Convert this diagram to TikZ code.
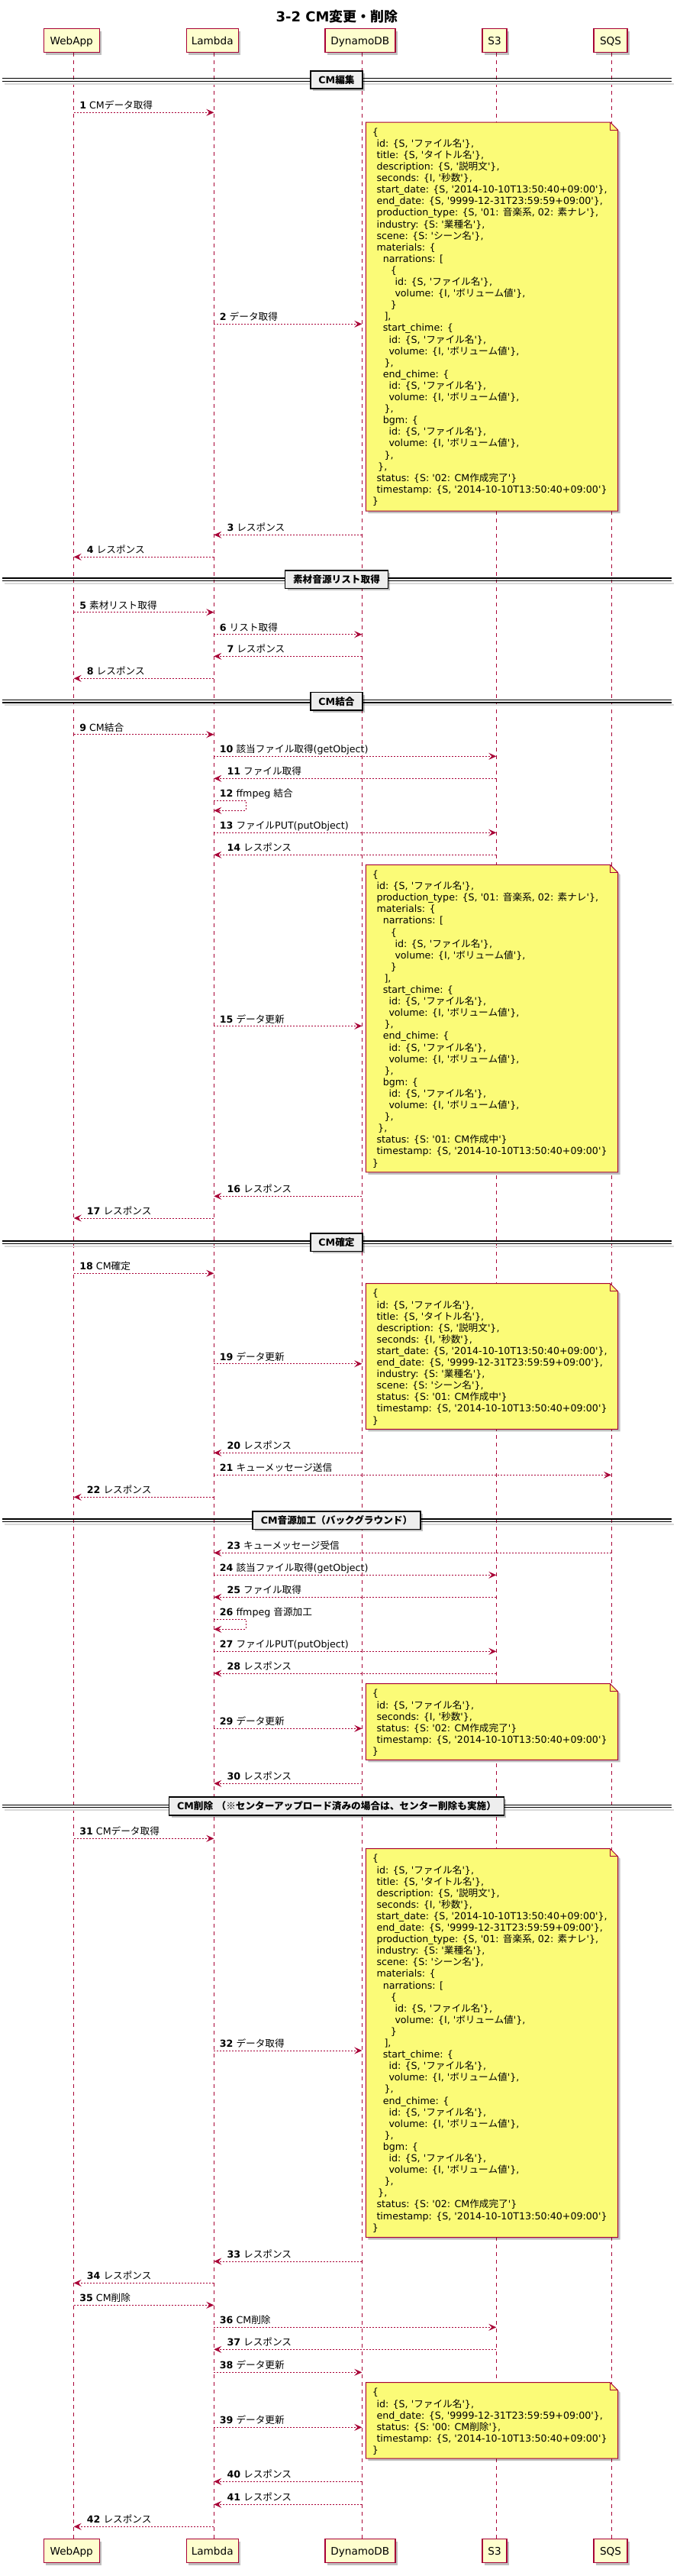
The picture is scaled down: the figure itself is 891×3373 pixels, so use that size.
\documentclass[tikz,border=0pt]{standalone}
\usepackage{fontspec}
\setmainfont{DejaVu Sans}[Ligatures=TeXOff]
\newfontfamily\cjkfont{Noto Sans CJK JP}
\usetikzlibrary{arrows.meta,shadows}
\definecolor{pbord}{HTML}{A80036}
\definecolor{pfill}{HTML}{FEFECE}
\definecolor{nfill}{HTML}{FBFB77}
\definecolor{sfill}{HTML}{EEEEEE}
% automatic switch to the CJK font
\XeTeXinterchartokenstate=1
\newXeTeXintercharclass\cjkcls
\makeatletter
\count@="2E80
\loop
  \XeTeXcharclass\count@=\cjkcls
  \advance\count@\@ne
\ifnum\count@<"A000 \repeat
\count@="FF00
\loop
  \XeTeXcharclass\count@=\cjkcls
  \advance\count@\@ne
\ifnum\count@<"FFF0 \repeat
\XeTeXcharclass"203B=\cjkcls
\makeatother
\XeTeXinterchartoks 0 \cjkcls = {\cjkfont}
\XeTeXinterchartoks 4095 \cjkcls = {\cjkfont}
\XeTeXinterchartoks \cjkcls 0 = {\rmfamily}
\XeTeXinterchartoks \cjkcls 4095 = {\rmfamily}

\newcommand\nstr{\rule{0pt}{12pt}}
\newcommand\ind[1]{\hspace*{#1pt}}
\newcommand\La{\nstr\ind{5.6}}
\newcommand\matblock{%
\La materials: \{\\%
\nstr\ind{14}narrations: [\\%
\nstr\ind{24}\{\\%
\nstr\ind{29.6}id: \{S, 'ファイル名'\},\\%
\nstr\ind{29.6}volume: \{I, 'ボリューム値'\},\\%
\nstr\ind{24}\}\\%
\nstr\ind{15.6}],\\%
\nstr\ind{14}start\_chime: \{\\%
\nstr\ind{21.6}id: \{S, 'ファイル名'\},\\%
\nstr\ind{21.6}volume: \{I, 'ボリューム値'\},\\%
\nstr\ind{15.6}\},\\%
\nstr\ind{14}end\_chime: \{\\%
\nstr\ind{21.6}id: \{S, 'ファイル名'\},\\%
\nstr\ind{21.6}volume: \{I, 'ボリューム値'\},\\%
\nstr\ind{15.6}\},\\%
\nstr\ind{14}bgm: \{\\%
\nstr\ind{21.6}id: \{S, 'ファイル名'\},\\%
\nstr\ind{21.6}volume: \{I, 'ボリューム値'\},\\%
\nstr\ind{15.6}\},\\%
\nstr\ind{7.3}\},\\%
}
\newcommand\noteFull{%
\nstr\{\\%
\La id: \{S, 'ファイル名'\},\\%
\La title: \{S, 'タイトル名'\},\\%
\La description: \{S, '説明文'\},\\%
\La seconds: \{I, '秒数'\},\\%
\La start\_date: \{S, '2014-10-10T13:50:40+09:00'\},\\%
\La end\_date: \{S, '9999-12-31T23:59:59+09:00'\},\\%
\La production\_type: \{S, '01: 音楽系, 02: 素ナレ'\},\\%
\La industry: \{S: '業種名'\},\\%
\La scene: \{S: 'シーン名'\},\\%
\matblock
\La status: \{S: '02: CM作成完了'\}\\%
\La timestamp: \{S, '2014-10-10T13:50:40+09:00'\}\\%
\nstr\}}
\newcommand\noteMat{%
\nstr\{\\%
\La id: \{S, 'ファイル名'\},\\%
\La production\_type: \{S, '01: 音楽系, 02: 素ナレ'\},\\%
\matblock
\La status: \{S: '01: CM作成中'\}\\%
\La timestamp: \{S, '2014-10-10T13:50:40+09:00'\}\\%
\nstr\}}
\newcommand\noteFix{%
\nstr\{\\%
\La id: \{S, 'ファイル名'\},\\%
\La title: \{S, 'タイトル名'\},\\%
\La description: \{S, '説明文'\},\\%
\La seconds: \{I, '秒数'\},\\%
\La start\_date: \{S, '2014-10-10T13:50:40+09:00'\},\\%
\La end\_date: \{S, '9999-12-31T23:59:59+09:00'\},\\%
\La industry: \{S: '業種名'\},\\%
\La scene: \{S: 'シーン名'\},\\%
\La status: \{S: '01: CM作成中'\}\\%
\La timestamp: \{S, '2014-10-10T13:50:40+09:00'\}\\%
\nstr\}}
\newcommand\noteSnd{%
\nstr\{\\%
\La id: \{S, 'ファイル名'\},\\%
\La seconds: \{I, '秒数'\},\\%
\La status: \{S: '02: CM作成完了'\}\\%
\La timestamp: \{S, '2014-10-10T13:50:40+09:00'\}\\%
\nstr\}}
\newcommand\noteDel{%
\nstr\{\\%
\La id: \{S, 'ファイル名'\},\\%
\La end\_date: \{S, '9999-12-31T23:59:59+09:00'\},\\%
\La status: \{S: '00: CM削除'\},\\%
\La timestamp: \{S, '2014-10-10T13:50:40+09:00'\}\\%
\nstr\}}

% message macros: name, from x, to x, y, label
\newcommand\msgR[5]{%
  \coordinate (#1a) at (#2,#4);
  \coordinate (#1b) at (#3,#4);
  \draw[msgline] (#1a) -- (#1b);
  \node[lbl] (#1t) at ([xshift=7.4pt,yshift=4.4pt]#1a) {#5};}
\newcommand\msgL[5]{%
  \coordinate (#1a) at (#2,#4);
  \coordinate (#1b) at (#3,#4);
  \draw[msgline] (#1a) -- (#1b);
  \node[lbl] (#1t) at ([xshift=17pt,yshift=4.4pt]#1b) {#5};}
\newcommand\msgS[4]{%
  \coordinate (#1a) at (#2,#3);
  \coordinate (#1b) at (#2+42,#3);
  \coordinate (#1c) at (#2+42,#3+13);
  \coordinate (#1d) at (#2,#3+13);
  \draw[msgline] (#1a) -- (#1b) -- (#1c) -- (#1d);
  \node[lbl] (#1t) at ([xshift=7.4pt,yshift=4.4pt]#1a) {#4};}
% divider: name, y, label
\newcommand\sepdiv[3]{%
  \coordinate (#1l) at (3,#2);
  \coordinate (#1r) at (880,#2);
  \draw[black!15, line width=2pt] ([xshift=3pt,yshift=-5pt]#1l) -- ([xshift=3pt,yshift=-5pt]#1r);
  \draw[sepline] ([yshift=1.7pt]#1l) -- ([yshift=1.7pt]#1r);
  \draw[sepline] ([yshift=-1.7pt]#1l) -- ([yshift=-1.7pt]#1r);
  \node[sepbox] (#1) at (441,#2) {#3};}
% note: name, top, bottom, text
\newcommand\dbnote[4]{%
  \coordinate (#1a) at (479.3,#2);
  \coordinate (#1b) at (799.5,#2);
  \coordinate (#1c) at (809.5,#2+10);
  \coordinate (#1d) at (809.5,#3);
  \coordinate (#1e) at (479.3,#3);
  \coordinate (#1f) at (799.5,#2+10);
  \filldraw[notebox] (#1a) -- (#1b) -- (#1c) -- (#1d) -- (#1e) -- cycle;
  \draw[notefold] (#1b) -- (#1f) -- (#1c);
  \node[notetext] (#1x) at ([xshift=8.4pt,yshift=-5pt]#1a) {#4};}

\begin{document}
\begin{tikzpicture}[x=1pt,y=-1pt,
  shad/.style={drop shadow={shadow xshift=3pt,shadow yshift=-3pt,opacity=0.25,fill=black}},
  part/.style={draw=pbord, fill=pfill, line width=1.4pt, minimum height=31pt, inner sep=0pt,
    font=\fontsize{13.6}{16}\selectfont, text height=10pt, text depth=0pt, shad},
  lifeline/.style={draw=pbord, line width=1pt, dash pattern=on 5pt off 5pt},
  msgline/.style={draw=pbord, line width=1pt, dash pattern=on 2pt off 2pt,
    -{Stealth[length=10pt,width=9pt,inset=4pt]}},
  lbl/.style={anchor=base west, inner sep=0pt, font=\fontsize{12.65}{15}\selectfont},
  sepline/.style={draw=black, line width=1.1pt},
  sepbox/.style={draw=black, fill=sfill, line width=1.6pt, inner xsep=10.5pt, inner ysep=0pt,
    minimum height=23.5pt, text height=10.6pt, text depth=1pt,
    font=\bfseries\fontsize{12.65}{15}\selectfont, shad},
  notebox/.style={draw=pbord, fill=nfill, line width=1pt, shad},
  notefold/.style={draw=pbord, line width=1pt},
  notetext/.style={anchor=north west, inner sep=0pt, align=left,
    font=\fontsize{12.65}{15.1}\selectfont}
]
\useasboundingbox (0,0) rectangle (891,3373);
\fill[white] (0,0) rectangle (891,3373);
\def\xW{96.7}\def\xL{280.3}\def\xD{474.3}\def\xS{650.3}\def\xQ{801}

% title
\node[font=\bfseries\fontsize{18}{22}\selectfont, anchor=base, inner sep=0pt] (title) at (441.5,28.3) {3-2 CM変更・削除};

% lifelines
\coordinate (lWt) at (\xW,69); \coordinate (lWb) at (\xW,3325);
\coordinate (lLt) at (\xL,69); \coordinate (lLb) at (\xL,3325);
\coordinate (lDt) at (\xD,69); \coordinate (lDb) at (\xD,3325);
\coordinate (lSt) at (\xS,69); \coordinate (lSb) at (\xS,3325);
\coordinate (lQt) at (\xQ,69); \coordinate (lQb) at (\xQ,3325);
\draw[lifeline] (lWt) -- (lWb);
\draw[lifeline] (lLt) -- (lLb);
\draw[lifeline] (lDt) -- (lDb);
\draw[lifeline] (lSt) -- (lSb);
\draw[lifeline] (lQt) -- (lQb);

% participants
\node[part, minimum width=73pt] (pW) at (93.7,53) {WebApp};
\node[part, minimum width=68pt] (pL) at (278.2,53) {Lambda};
\node[part, minimum width=92pt] (pD) at (471.8,53) {DynamoDB};
\node[part, minimum width=32pt] (pS) at (648,53) {S3};
\node[part, minimum width=44pt] (pQ) at (800,53) {SQS};
\node[part, minimum width=73pt] (bW) at (93.7,3340) {WebApp};
\node[part, minimum width=68pt] (bL) at (278.2,3340) {Lambda};
\node[part, minimum width=92pt] (bD) at (471.8,3340) {DynamoDB};
\node[part, minimum width=32pt] (bS) at (648,3340) {S3};
\node[part, minimum width=44pt] (bQ) at (800,3340) {SQS};

% CM編集
\sepdiv{s1}{104.5}{CM編集}
\msgR{m1}{\xW}{\xL}{147.3}{\textbf{1} CMデータ取得}
\msgR{m2}{\xL}{\xD}{424.3}{\textbf{2} データ取得}
\dbnote{n1}{160}{669}{\noteFull}
\msgL{m3}{\xD}{\xL}{700.3}{\textbf{3} レスポンス}
\msgL{m4}{\xL}{\xW}{729.3}{\textbf{4} レスポンス}

% 素材音源リスト取得
\sepdiv{s2}{758.7}{素材音源リスト取得}
\msgR{m5}{\xW}{\xL}{801.7}{\textbf{5} 素材リスト取得}
\msgR{m6}{\xL}{\xD}{830.7}{\textbf{6} リスト取得}
\msgL{m7}{\xD}{\xL}{859.3}{\textbf{7} レスポンス}
\msgL{m8}{\xL}{\xW}{888.3}{\textbf{8} レスポンス}

% CM結合
\sepdiv{s3}{918.3}{CM結合}
\msgR{m9}{\xW}{\xL}{961.7}{\textbf{9} CM結合}
\msgR{m10}{\xL}{\xS}{990.3}{\textbf{10} 該当ファイル取得(getObject)}
\msgL{m11}{\xS}{\xL}{1019.3}{\textbf{11} ファイル取得}
\msgS{m12}{\xL}{1048.3}{\textbf{12} ffmpeg 結合}
\msgR{m13}{\xL}{\xS}{1090.3}{\textbf{13} ファイルPUT(putObject)}
\msgL{m14}{\xS}{\xL}{1119.3}{\textbf{14} レスポンス}
\dbnote{n2}{1132.3}{1534.9}{\noteMat}
\msgR{m15}{\xL}{\xD}{1343.4}{\textbf{15} データ更新}
\msgL{m16}{\xD}{\xL}{1566.3}{\textbf{16} レスポンス}
\msgL{m17}{\xL}{\xW}{1595}{\textbf{17} レスポンス}

% CM確定
\sepdiv{s4}{1626.7}{CM確定}
\msgR{m18}{\xW}{\xL}{1667.3}{\textbf{18} CM確定}
\dbnote{n3}{1680.7}{1871.3}{\noteFix}
\msgR{m19}{\xL}{\xD}{1785.7}{\textbf{19} データ更新}
\msgL{m20}{\xD}{\xL}{1902.3}{\textbf{20} レスポンス}
\msgR{m21}{\xL}{\xQ}{1931.3}{\textbf{21} キューメッセージ送信}
\msgL{m22}{\xL}{\xW}{1960.3}{\textbf{22} レスポンス}

% CM音源加工
\sepdiv{s5}{1990.7}{CM音源加工（バックグラウンド）}
\msgL{m23}{\xQ}{\xL}{2033.3}{\textbf{23} キューメッセージ受信}
\msgR{m24}{\xL}{\xS}{2062.3}{\textbf{24} 該当ファイル取得(getObject)}
\msgL{m25}{\xS}{\xL}{2091.3}{\textbf{25} ファイル取得}
\msgS{m26}{\xL}{2120.3}{\textbf{26} ffmpeg 音源加工}
\msgR{m27}{\xL}{\xS}{2162.3}{\textbf{27} ファイルPUT(putObject)}
\msgL{m28}{\xS}{\xL}{2191}{\textbf{28} レスポンス}
\dbnote{n4}{2204.7}{2304.3}{\noteSnd}
\msgR{m29}{\xL}{\xD}{2263.3}{\textbf{29} データ更新}
\msgL{m30}{\xD}{\xL}{2335.3}{\textbf{30} レスポンス}

% CM削除
\sepdiv{s6}{2365}{CM削除 （※センターアップロード済みの場合は、センター削除も実施）}
\msgR{m31}{\xW}{\xL}{2407.3}{\textbf{31} CMデータ取得}
\dbnote{n5}{2420.7}{2929.7}{\noteFull}
\msgR{m32}{\xL}{\xD}{2685}{\textbf{32} データ取得}
\msgL{m33}{\xD}{\xL}{2961}{\textbf{33} レスポンス}
\msgL{m34}{\xL}{\xW}{2989.3}{\textbf{34} レスポンス}
\msgR{m35}{\xW}{\xL}{3018.3}{\textbf{35} CM削除}
\msgR{m36}{\xL}{\xS}{3047.3}{\textbf{36} CM削除}
\msgL{m37}{\xS}{\xL}{3076.3}{\textbf{37} レスポンス}
\msgR{m38}{\xL}{\xD}{3106.3}{\textbf{38} データ更新}
\dbnote{n6}{3119.7}{3219}{\noteDel}
\msgR{m39}{\xL}{\xD}{3178.3}{\textbf{39} データ更新}
\msgL{m40}{\xD}{\xL}{3249.3}{\textbf{40} レスポンス}
\msgL{m41}{\xD}{\xL}{3279.3}{\textbf{41} レスポンス}
\msgL{m42}{\xL}{\xW}{3308.3}{\textbf{42} レスポンス}
\end{tikzpicture}
\end{document}
